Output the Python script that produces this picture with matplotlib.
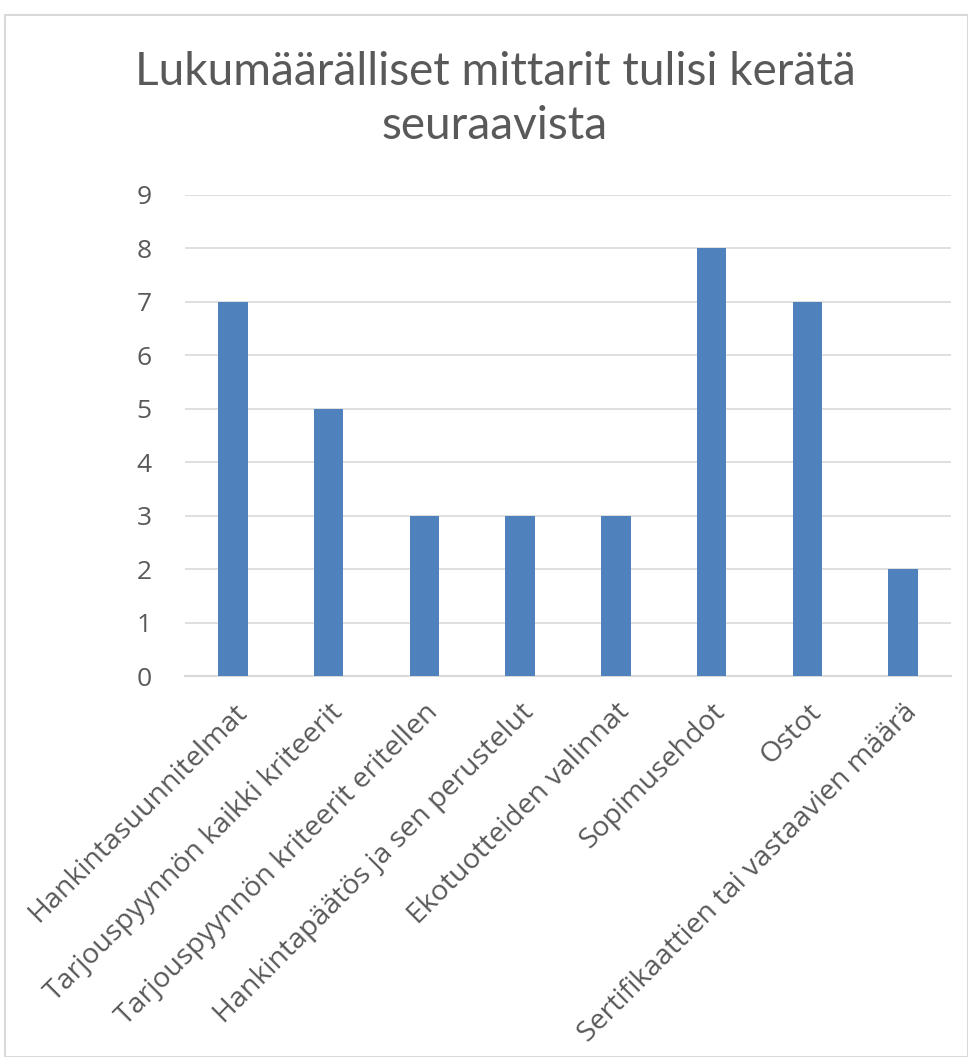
import matplotlib
matplotlib.use("Agg")
import matplotlib.pyplot as plt
from matplotlib.patches import Rectangle

categories = [
    "Hankintasuunnitelmat",
    "Tarjouspyynnön kaikki kriteerit",
    "Tarjouspyynnön kriteerit eritellen",
    "Hankintapäätös ja sen perustelut",
    "Ekotuotteiden valinnat",
    "Sopimusehdot",
    "Ostot",
    "Sertifikaattien tai vastaavien määrä",
]
values = [7, 5, 3, 3, 3, 8, 7, 2]
yticks = list(range(0, 10))
title = "Lukumäärälliset mittarit tulisi kerätä\nseuraavista"

W, H = 968, 1057
fig = plt.figure(figsize=(W / 100, H / 100), dpi=100)
fig.patch.set_facecolor("white")

# chart border
fig.patches.append(Rectangle((5 / W, 0), (W - 5) / W, (H - 15) / H, transform=fig.transFigure,
                             fill=False, edgecolor="#D9D9D9", linewidth=1.5))

left, right = 185 / W, 951 / W
bottom, top = 1 - 676 / H, 1 - 195 / H
ax = fig.add_axes([left, bottom, right - left, top - bottom])

x = range(len(categories))
ax.bar(x, values, width=0.31, color="#4F81BD", zorder=3)
ax.set_xlim(-0.5, len(categories) - 0.5)
ax.set_ylim(0, 9)
ax.set_yticks(yticks)
ax.set_yticklabels([str(t) for t in yticks], fontsize=19, color="#595959", family="Open Sans")
ax.yaxis.grid(True, color="#D9D9D9", linewidth=1.2, zorder=0)
ax.set_xticks(list(x))
ax.set_xticklabels(categories, rotation=45, ha="right", rotation_mode="anchor",
                   fontsize=20.5, color="#595959", family="Open Sans")
ax.tick_params(axis="both", length=0)
ax.tick_params(axis="y", pad=24)
ax.tick_params(axis="x", pad=16)
for s in ["top", "right", "left"]:
    ax.spines[s].set_visible(False)
ax.spines["bottom"].set_color("#D9D9D9")
ax.spines["bottom"].set_linewidth(1.5)

fig.text(495 / W, 1 - 99 / H, title, ha="center", va="center", fontsize=33,
         color="#595959", family="Lato", linespacing=1.38)

fig.savefig("out.png", dpi=100)
